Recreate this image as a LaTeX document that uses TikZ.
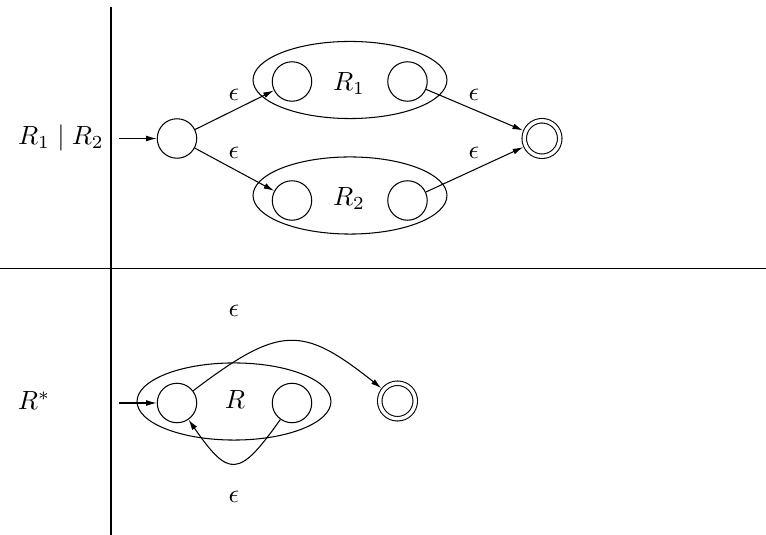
\documentclass[tikz,border=0pt]{standalone}
\usepackage{amsmath,amssymb}
\usepackage{tikz}
\usetikzlibrary{arrows.meta,shapes.geometric}
\tikzset{
  state/.style={
    circle,draw,line width=.4pt,
    minimum size=15pt,inner sep=0pt
  },
  accept/.style={
    circle,draw,double,double distance=1.3pt,line width=.4pt,
    minimum size=13.5pt,inner sep=0pt,outer sep=1.1pt
  },
  group/.style={
    ellipse,draw,line width=.4pt,
    minimum width=73.7pt,minimum height=29.3pt,inner sep=0pt
  },
  lbl/.style={inner sep=0pt,anchor=base},
  eps/.style={inner sep=0pt},
  arrow/.style={-{Latex[length=4pt,width=2.2pt]},line width=.4pt}
}
\begin{document}
\begin{tikzpicture}[x=0.38pt,y=-0.38pt]
\useasboundingbox (0,0) rectangle (766,535);
\coordinate (vt) at (111,7);
\coordinate (vb) at (111,535);
\coordinate (hl) at (0,268.5);
\coordinate (hr) at (766,268.5);
\draw[line width=.4pt] (vt)--(vb);
\draw[line width=.4pt] (hl)--(hr);
\node[lbl] (alt) at (61,145) {$R_1 \mid R_2$};
\node[lbl] (star) at (34,410) {$R^*$};
\node[group] (g1) at (350,80) {};
\node[group] (g2) at (350,195.5) {};
\node[lbl] (r1) at (349,91) {$R_1$};
\node[lbl] (r2) at (349,206) {$R_2$};
\node[state] (s1) at (177,138.5) {};
\node[state] (a1) at (292,81.5) {};
\node[state] (b1) at (407.5,81.5) {};
\node[state] (a2) at (292,200.5) {};
\node[state] (b2) at (407.5,200.5) {};
\node[accept] (f1) at (542,138.5) {};
\coordinate (in1) at (119,138.5);
\draw[arrow] (in1)--(s1);
\draw[arrow] (s1)--(a1);
\draw[arrow] (s1)--(a2);
\draw[arrow] (b1)--(f1);
\draw[arrow] (b2)--(f1);
\node[eps] (e1) at (234,95) {$\epsilon$};
\node[eps] (e2) at (234,153) {$\epsilon$};
\node[eps] (e3) at (474,95) {$\epsilon$};
\node[eps] (e4) at (474,153) {$\epsilon$};
\node[group] (g3) at (234,401.5) {};
\node[lbl] (r) at (235,409) {$R$};
\node[state] (s2) at (177,403) {};
\node[state] (c2) at (292,403) {};
\node[accept] (f2) at (397.5,401) {};
\coordinate (in2) at (119,403);
\draw[arrow] (in2)--(s2);
\draw[arrow] (s2) .. controls (280,325) and (302,325) .. (f2);
\draw[arrow] (c2) .. controls (239,478) and (229,478) .. (s2);
\node[eps] (e5) at (234,311) {$\epsilon$};
\node[eps] (e6) at (234,497) {$\epsilon$};
\end{tikzpicture}
\end{document}
